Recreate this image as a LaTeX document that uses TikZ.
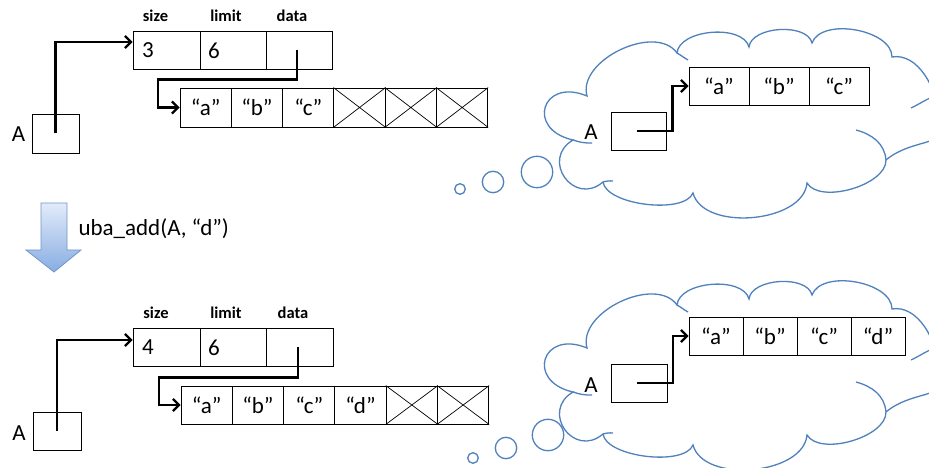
\documentclass[tikz,border=0pt]{standalone}
\usepackage{fontspec}
\setmainfont{Carlito}
\usetikzlibrary{arrows.meta}

\definecolor{cloudblue}{RGB}{79,129,189}
\definecolor{optop}{RGB}{226,235,250}
\definecolor{opbottom}{RGB}{136,173,226}
\definecolor{opline}{RGB}{112,150,205}

% the thought cloud, drawn once for each state
\newcommand{\thoughtcloud}{%
  \draw[cloudline, fill=white] (573,328) to[bend left=95, looseness=2.7] (587,372)
    to[bend left=80, looseness=0.95] (677,415)
    to[bend left=80, looseness=0.85] (749,421)
    to[bend left=80, looseness=0.85] (812,425)
    to[bend left=80, looseness=0.87] (892,411)
    to[out=10, in=90, looseness=0.9] (938,352)
    to[out=-60, in=40, looseness=1.4] (886,308)
    to[bend left=75, looseness=0.78] (807,285)
    to[bend left=80, looseness=0.9] (693,275)
    to[bend left=75, looseness=0.66] (603,286)
    to[bend left=95, looseness=1.9] (573,328) -- cycle;
  \draw[cloudline] (856,338) to[out=-15, in=95] (886,308);
  \draw[cloudline] (911,360) to[out=25, in=200] (935,372);
  \draw[cloudline] (573,328) to[bend right=10] (592,325);
  \draw[cloudline] (603,286) to[bend left=10] (613,287);
  \draw[cloudline] (677,415) to[out=-30, in=150] (688,408);
}

\begin{document}
\begin{tikzpicture}[x=1pt, y=1pt,
    cell/.style={draw, line width=0.9pt, inner sep=0pt, minimum height=38pt,
      font=\fontsize{23}{27}\selectfont},
    field/.style={font=\bfseries\fontsize{16.5}{19}\selectfont, anchor=base},
    ptr/.style={line width=2.3pt, -{Straight Barb[length=6pt, width=12pt]}},
    cloudline/.style={draw=cloudblue, line width=1.3pt},
    varlbl/.style={font=\fontsize{23}{27}\selectfont}]
  \useasboundingbox (0,0) rectangle (929,468);
  \clip (0,0) rectangle (929,468);

  %%%% before uba_add
  \node[field] (bsizelbl) at (155.5,446) {size};
  \node[field] (blimitlbl) at (226,446) {limit};
  \node[field] (bdatalbl) at (292,446) {data};
  \node[cell, minimum width=67pt, text width=49pt, align=left, inner xsep=9pt] (bsize) at (166.5,417.5) {3};
  \node[cell, minimum width=66pt, text width=50pt, align=left, inner xsep=8pt] (blimit) at (233,417.5) {6};
  \node[cell, minimum width=66pt] (bdata) at (299,417.5) {};

  \node[cell, minimum width=47pt, minimum height=39pt] (bA) at (55.5,334.5) {};
  \node[varlbl] (bAlbl) at (18.5,334) {A};

  \foreach \t [count=\i] in {“a”,“b”,“c”}
    \node[cell, minimum width=51.3pt, minimum height=39pt] (bcell\i) at (180+51.3*\i-25.65,360.5) {\t};
  \foreach \i in {4,5,6} {
    \node[cell, minimum width=51.3pt, minimum height=39pt] (bcell\i) at (180+51.3*\i-25.65,360.5) {};
    \draw[line width=0.7pt] (bcell\i.north west) -- (bcell\i.south east) (bcell\i.south west) -- (bcell\i.north east);
  }

  \draw[ptr] (bA.center) |- ([yshift=8.5pt]bsize.west);
  \draw[ptr] ([xshift=-2pt]bdata.center) |- ++(-139,-29) |- (bcell1.west);

  \draw[cloudline] (460,279) circle (5.3);
  \draw[cloudline] (493,286) circle (10.7);
  \draw[cloudline] (537,296) circle (15.7);
  \thoughtcloud
  \node[cell, minimum width=55pt] (bcA) at (638.5,337) {};
  \node[varlbl] (bcAlbl) at (591,335.5) {A};
  \foreach \t [count=\i] in {“a”,“b”,“c”}
    \node[cell, minimum width=60pt] (bccell\i) at (689+60*\i-30,382) {\t};
  \draw[ptr] ([xshift=-2pt]bcA.center) -- ++(36,0) |- (bccell1.west);

  %%%% the call
  \draw[opline, line width=0.8pt, top color=optop, bottom color=opbottom]
    (41,265) -- (67,265) -- (67,218) -- (81,218) -- (54,196) -- (26,218) -- (41,218) -- cycle;
  \node[varlbl, anchor=west] (op) at (75,239) {uba\_add(A, “d”)};

  %%%% after uba_add
  \node[field] (asizelbl) at (156,149) {size};
  \node[field] (alimitlbl) at (226,149) {limit};
  \node[field] (adatalbl) at (293,149) {data};
  \node[cell, minimum width=67pt, text width=49pt, align=left, inner xsep=9pt] (asize) at (166.5,120.5) {4};
  \node[cell, minimum width=66pt, text width=50pt, align=left, inner xsep=8pt] (alimit) at (233,120.5) {6};
  \node[cell, minimum width=67pt] (adata) at (299.5,120.5) {};

  \node[cell, minimum width=48pt] (aA) at (57,37) {};
  \node[varlbl] (aAlbl) at (19,35) {A};

  \foreach \t [count=\i] in {“a”,“b”,“c”,“d”}
    \node[cell, minimum width=51.3pt] (acell\i) at (181+51.3*\i-25.65,63) {\t};
  \foreach \i in {5,6} {
    \node[cell, minimum width=51.3pt] (acell\i) at (181+51.3*\i-25.65,63) {};
    \draw[line width=0.7pt] (acell\i.north west) -- (acell\i.south east) (acell\i.south west) -- (acell\i.north east);
  }

  \draw[ptr] (aA.center) |- ([yshift=7.5pt]asize.west);
  \draw[ptr] ([xshift=-1.5pt]adata.center) |- ++(-139,-30) |- (acell1.west);

  \draw[cloudline] (473,10) circle (5.3);
  \draw[cloudline] (506,20) circle (10.7);
  \draw[cloudline] (548,33) circle (15.7);
  \begin{scope}[yshift=-252pt]
    \thoughtcloud
  \end{scope}
  \node[cell, minimum width=56pt] (acA) at (639,85) {};
  \node[varlbl] (acAlbl) at (591,82.5) {A};
  \foreach \t [count=\i] in {“a”,“b”,“c”,“d”}
    \node[cell, minimum width=54pt] (accell\i) at (689+54*\i-27,132) {\t};
  \draw[ptr] ([xshift=-2pt]acA.center) -- ++(36,0) |- (accell1.west);
\end{tikzpicture}
\end{document}
